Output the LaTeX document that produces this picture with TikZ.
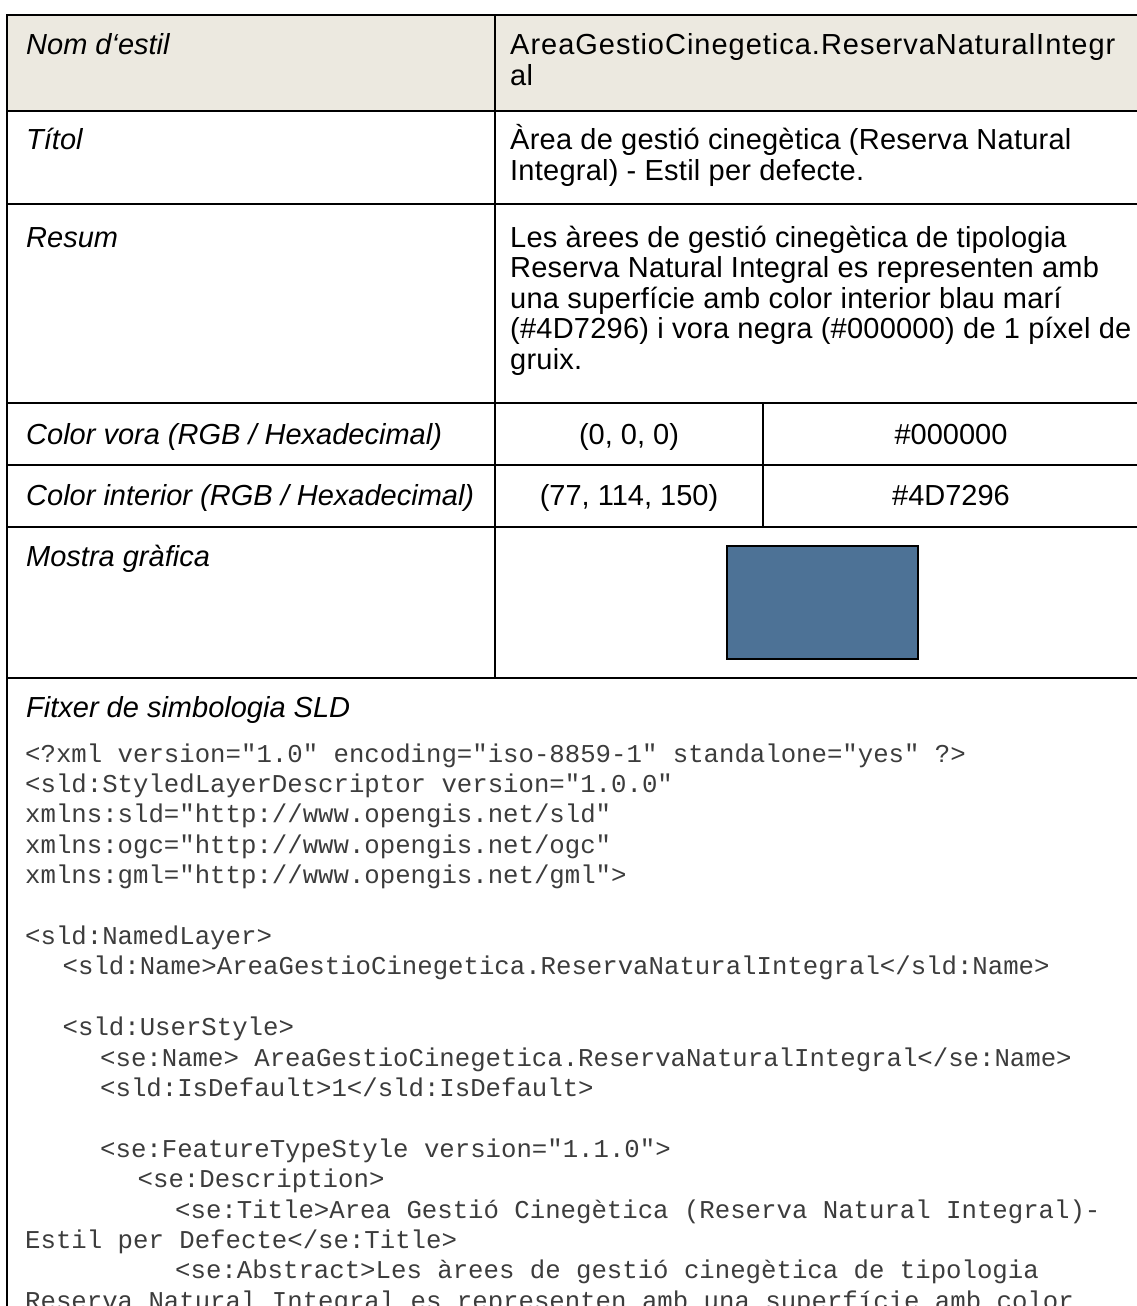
\documentclass[tikz,border=0pt]{standalone}
\usepackage{fontspec}
\setmainfont{Liberation Sans}
\newfontfamily\codefont{Liberation Mono}
\definecolor{hdrfill}{RGB}{236,233,224}
\definecolor{swatchblue}{HTML}{4D7296}
\definecolor{codegray}{RGB}{60,60,60}
\begin{document}
\begin{tikzpicture}[x=1pt,y=-1pt,
  rule/.style={line width=2pt, line cap=rect},
  lbl/.style={anchor=base west, inner sep=0pt, font=\fontsize{29}{30}\selectfont\itshape},
  val/.style={anchor=base west, inner sep=0pt, font=\fontsize{29}{30}\selectfont\addfontfeature{LetterSpace=0.8}},
  cval/.style={anchor=base, inner sep=0pt, font=\fontsize{29}{30}\selectfont},
  code/.style={anchor=base west, inner sep=0pt, font=\fontsize{25.7}{30}\codefont, text=codegray},
]
\useasboundingbox (0,0) rectangle (1137,1306);
\clip (0,0) rectangle (1137,1306);
% header fill
\fill[hdrfill] (7,15.5) rectangle (1140,110.5);
% horizontal rules
\draw[rule] (7,15.5) -- (1140,15.5);
\draw[rule] (7,110.5) -- (1140,110.5);
\draw[rule] (7,204) -- (1140,204);
\draw[rule] (7,403) -- (1140,403);
\draw[rule] (7,465) -- (1140,465);
\draw[rule] (7,526.5) -- (1140,526.5);
\draw[rule] (7,678) -- (1140,678);
% vertical rules
\draw[rule] (7,15.5) -- (7,1320);
\draw[rule] (495,15.5) -- (495,678);
\draw[rule] (763,403) -- (763,526.5);
% swatch
\draw[line width=2pt, fill=swatchblue] (727,546) rectangle (918,659);

% row: Nom d'estil
\node[lbl] (l1) at (26,55) {Nom d‘estil};
\node[val, font=\fontsize{29}{30}\selectfont\addfontfeature{LetterSpace=3.4}] (v1a) at (510,55) {AreaGestioCinegetica.ReservaNaturalIntegr};
\node[val] (v1b) at (510,85.5) {al};
% row: Titol
\node[lbl] (l2) at (26,149.5) {Títol};
\node[val] (v2a) at (510,149.5) {Àrea de gestió cinegètica (Reserva Natural};
\node[val] (v2b) at (510,180) {Integral) - Estil per defecte.};
% row: Resum
\node[lbl] (l3) at (26,247) {Resum};
\node[val] (v3a) at (510,247) {Les àrees de gestió cinegètica de tipologia};
\node[val] (v3b) at (510,277.5) {Reserva Natural Integral es representen amb};
\node[val] (v3c) at (510,308) {una superfície amb color interior blau marí};
\node[val] (v3d) at (510,338.5) {(\#4D7296) i vora negra (\#000000) de 1 píxel de};
\node[val] (v3e) at (510,369) {gruix.};
% row: Color vora
\node[lbl] (l4) at (26,444) {Color vora (RGB / Hexadecimal)};
\node[cval] (v4a) at (629,444) {(0, 0, 0)};
\node[cval] (v4b) at (951,444) {\#000000};
% row: Color interior
\node[lbl] (l5) at (26,505.5) {Color interior (RGB / Hexadecimal)};
\node[cval] (v5a) at (629,505.5) {(77, 114, 150)};
\node[cval] (v5b) at (951,505.5) {\#4D7296};
% row: Mostra grafica
\node[lbl] (l6) at (26,566) {Mostra gràfica};
% row: Fitxer
\node[lbl] (l7) at (26,717) {Fitxer de simbologia SLD};
% code
\node[code] (c0) at (25,762) {<?xml version="1.0" encoding="iso-8859-1" standalone="yes" ?>};
\node[code] (c1) at (25,792.4) {<sld:StyledLayerDescriptor version="1.0.0"};
\node[code] (c2) at (25,822.8) {xmlns:sld="http://www.opengis.net/sld"};
\node[code] (c3) at (25,853.2) {xmlns:ogc="http://www.opengis.net/ogc"};
\node[code] (c4) at (25,883.6) {xmlns:gml="http://www.opengis.net/gml">};
\node[code] (c6) at (25,944.4) {<sld:NamedLayer>};
\node[code] (c7) at (62.5,974.8) {<sld:Name>AreaGestioCinegetica.ReservaNaturalIntegral</sld:Name>};
\node[code] (c9) at (62.5,1035.6) {<sld:UserStyle>};
\node[code] (c10) at (100,1066) {<se:Name> AreaGestioCinegetica.ReservaNaturalIntegral</se:Name>};
\node[code] (c11) at (100,1096.4) {<sld:IsDefault>1</sld:IsDefault>};
\node[code] (c13) at (100,1157.2) {<se:FeatureTypeStyle version="1.1.0">};
\node[code] (c14) at (137.5,1187.6) {<se:Description>};
\node[code] (c15) at (175,1218) {<se:Title>Area Gestió Cinegètica (Reserva Natural Integral)-};
\node[code] (c16) at (25,1248.4) {Estil per Defecte</se:Title>};
\node[code] (c17) at (175,1278.8) {<se:Abstract>Les àrees de gestió cinegètica de tipologia};
\node[code] (c18) at (25,1309.2) {Reserva Natural Integral es representen amb una superfície amb color};
\end{tikzpicture}
\end{document}
